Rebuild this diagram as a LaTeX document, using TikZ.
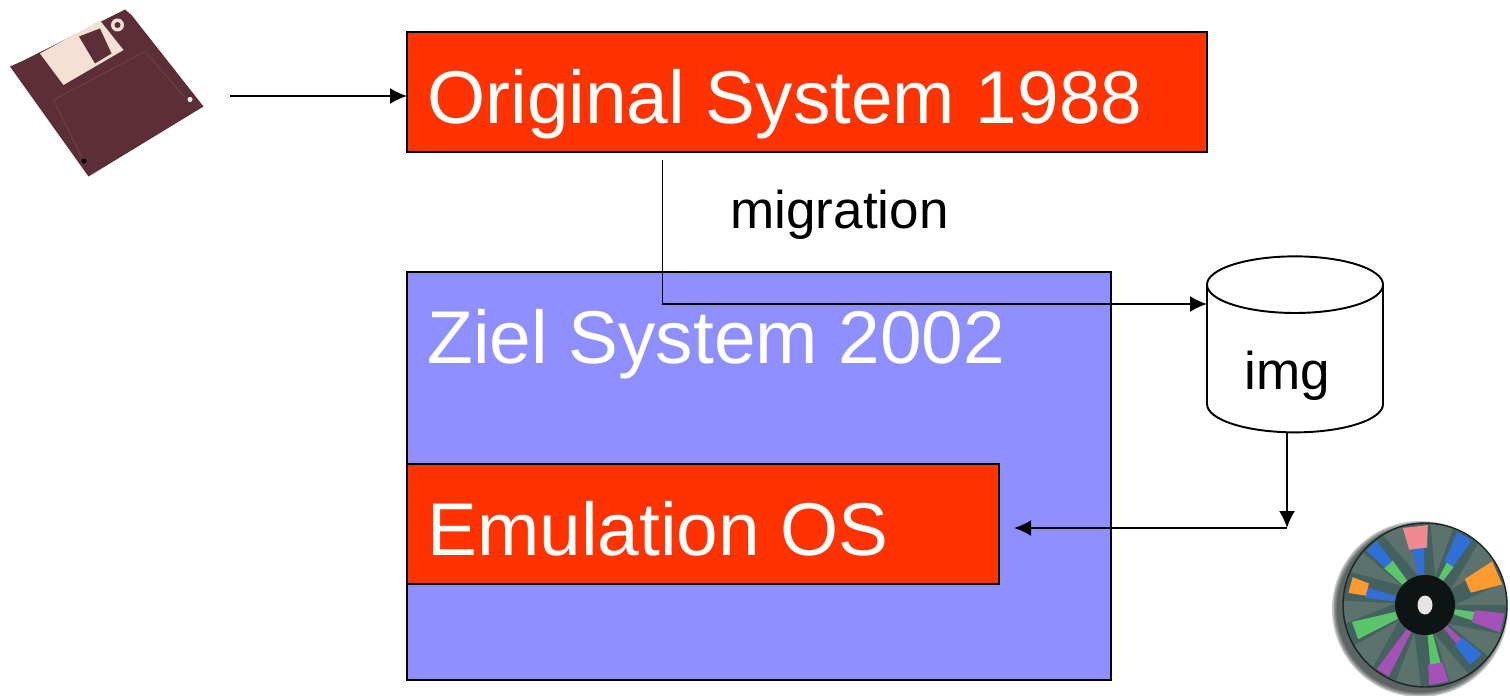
\documentclass[tikz,border=0pt]{standalone}
\usepackage{fontspec}
\setmainfont{Liberation Sans}
\usetikzlibrary{arrows.meta,shapes.geometric}

\definecolor{boxred}{HTML}{FF3300}
\definecolor{boxblue}{HTML}{8F8FFF}
\definecolor{floppy}{HTML}{5C2E38}
\definecolor{floppyline}{HTML}{6E4049}
\definecolor{floppylabel}{HTML}{F6DFD3}
\definecolor{discbase}{HTML}{45615F}
\definecolor{discgrey}{HTML}{7F9084}
\definecolor{discgreen}{HTML}{5CC46A}
\definecolor{discblue}{HTML}{2F6FD6}
\definecolor{discviolet}{HTML}{A552B8}
\definecolor{discorange}{HTML}{FF9A30}
\definecolor{discpink}{HTML}{EE8A90}

\tikzset{
    sysbox/.style={draw=black, line width=1.1pt, text=white, inner ysep=0pt, inner xsep=0.41cm, outer sep=0pt,
        align=flush left, text height=1.83cm, font=\fontsize{42.55}{48}\selectfont},
    link/.style={draw=black, line width=1.1pt, -{Latex[length=0.34cm, width=0.32cm]}},
    plainlabel/.style={inner sep=0pt, anchor=base west, font=\fontsize{30.2}{36}\selectfont},
}

\begin{document}
\begin{tikzpicture}
        \useasboundingbox (0,0) rectangle (30.2,13.9);

        \fill[floppy] (0.2,12.57) -- (0.45,12.68) -- (2.5,13.71) -- (2.63,13.6) -- (4.07,11.77) -- (1.77,10.37) -- cycle;
        \fill[floppylabel] (0.8,12.83) -- (2,13.49) -- (2.47,12.9) -- (1.27,12.2) -- cycle;
        \fill[floppy] (1.58,13.17) -- (2,13.33) -- (2.23,12.83) -- (1.9,12.63) -- cycle;
        \draw[floppyline, line width=0.6pt] (1.63,10.77) -- (1.07,11.9) -- (2.9,12.87) -- (3.7,11.95);
        \fill[floppylabel] (2.35,13.4) circle (0.13);
        \fill[floppy] (2.35,13.4) circle (0.06);
        \fill[white] (3.8,11.91) circle (0.05);
        \fill[black] (1.68,10.68) circle (0.05);

        \node[sysbox, fill=boxred, text width=15.18cm, text depth=0.57cm] (original) at (16.14,12.06) {Original System 1988};
        \node[sysbox, fill=boxblue, text width=13.26cm, text depth=6.33cm] (target) at (15.18,4.38) {Ziel System 2002};
        \node[sysbox, fill=boxred, text width=11.02cm, text depth=0.57cm] (emulation) at (14.06,3.42) {Emulation OS};

        \node[plainlabel] (migration) at (14.6,9.34) {migration};

        \node[draw=black, line width=1.1pt, cylinder, shape border rotate=90, aspect=2, inner sep=0pt, outer sep=0pt,
            minimum width=3.52cm, minimum height=3.52cm] (img) at (25.9,6.72) {\phantom{img}};
        \node[plainlabel] (imgtext) at (24.88,6.12) {img};

        \coordinate (floppyend) at (4.6,11.98);
        \coordinate (migstart) at (13.25,10.7);
        \coordinate (migbend) at (13.25,7.82);
        \coordinate (imgstart) at (25.74,5.26);
        \coordinate (imgjoin) at (25.74,3.34);
        \coordinate (emuend) at (20.28,3.34);

        \draw[link] (floppyend) -- (original.west |- floppyend);
        \draw[link] (migstart) -- (migbend) -- (img.west |- migbend);
        \draw[link] (imgstart) -- (imgjoin);
        \draw[link] (imgjoin) -- (emuend);

        \foreach \rad in {1.76,1.73,1.70,1.67}
            \fill[black!70!discbase, fill opacity=0.25] (28.4,1.72) circle (\rad);
        \begin{scope}[shift={(28.5,1.8)}]
            \fill[discbase] (0,0) circle (1.64);
            \foreach \a/\wid in {112/9, 78/8, 40/9, 8/8, -30/9, -65/7, -102/9, -140/10, -175/8, 148/8}
                \fill[discgrey, fill opacity=0.4] (\a-\wid:0.6) -- (\a-\wid:1.62) arc (\a-\wid:\a+\wid:1.62) -- cycle;
            \foreach \a/\rone/\rtwo/\wid/\col in {
                97/0.6/1.15/6/discblue, 97/1.15/1.6/9/discpink,
                60/0.95/1.6/6/discblue, 58/0.6/0.95/5/discgreen,
                24/0.95/1.6/9/discorange, -13/0.6/1/5/discgreen, -13/1/1.6/7/discviolet,
                -47/0.6/1/4/discviolet, -47/1/1.5/6/discblue,
                -80/0.6/1.2/5/discgreen, -80/1.2/1.6/7/discviolet,
                -122/0.6/1.6/5/discviolet, -160/0.6/1.5/7/discgreen,
                168/0.6/1.2/5/discblue, 165/1.2/1.55/6/discorange,
                132/0.6/1.1/6/discgreen, 132/1.1/1.6/5/discblue}
                \fill[\col] (\a-\wid:\rone) -- (\a-\wid:\rtwo) -- (\a+\wid:\rtwo) -- (\a+\wid:\rone) -- cycle;
            \draw[black!60!discbase, line width=0.8pt] (0,0) circle (1.64);
            \fill[black!80!discbase] (0,0) circle (0.6);
            \fill[white!90!black] (0,0) ellipse (0.15 and 0.19);
        \end{scope}

        \end{tikzpicture}
\end{document}
